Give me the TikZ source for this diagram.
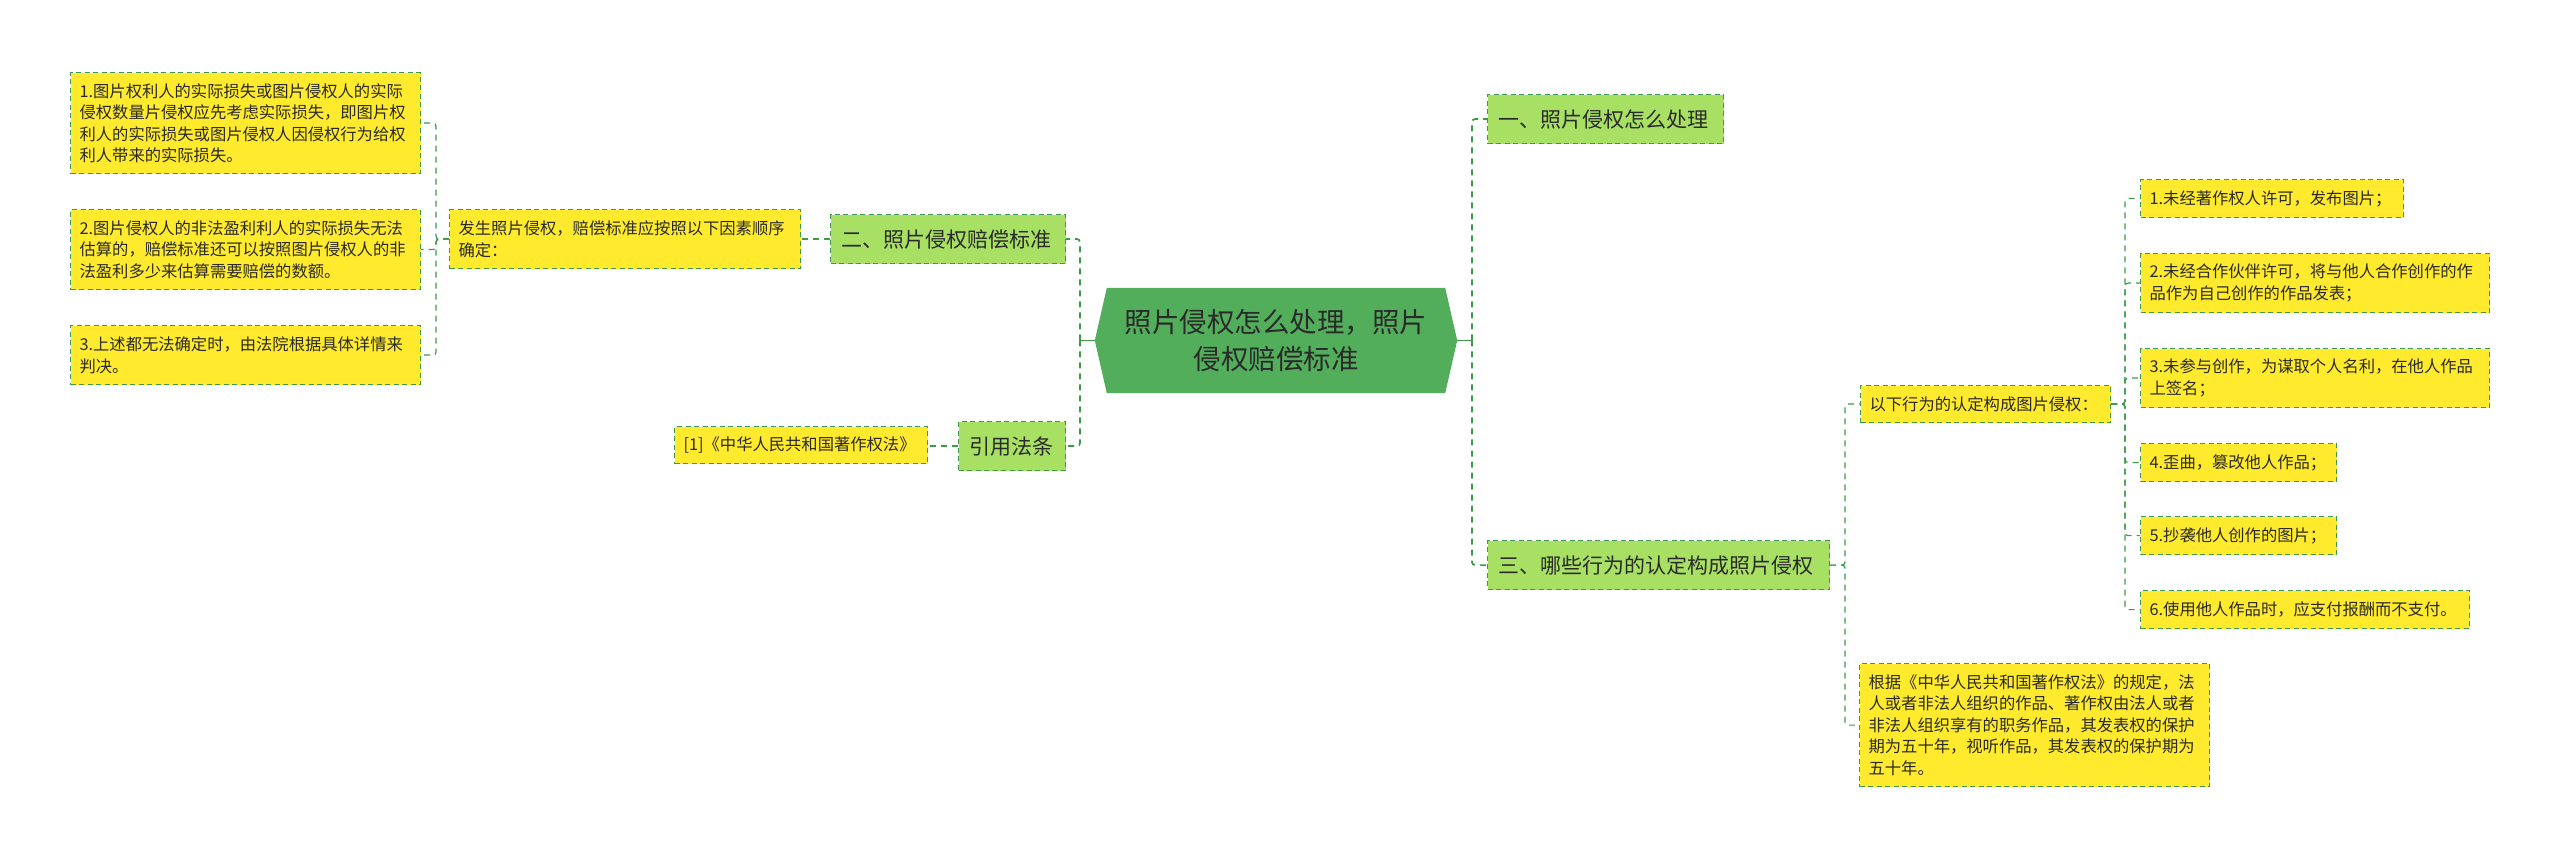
\documentclass[tikz,border=0pt]{standalone}
\usepackage{fontspec}
\setmainfont{Noto Sans CJK SC}
\usetikzlibrary{backgrounds}
\definecolor{hexg}{HTML}{52AE5B}
\definecolor{lg}{HTML}{A8E063}
\definecolor{yl}{HTML}{FFEA2E}
\definecolor{lineg}{HTML}{3E9A48}
\definecolor{txt}{HTML}{2A2A2A}
\begin{document}
\begin{tikzpicture}[x=1pt,y=-1pt,
  leaf/.style={draw=lineg, fill=yl, line width=1.2pt, dash pattern=on 5pt off 3.5pt,
    anchor=north west, inner xsep=9pt, inner ysep=0pt, align=left, text=txt,
    font=\fontsize{16.3}{21.4}\selectfont},
  lvl/.style={draw=lineg, fill=lg, line width=1.2pt, dash pattern=on 5pt off 3.5pt,
    anchor=north west, inner xsep=11pt, inner ysep=0pt, align=left, text=txt,
    font=\fontsize{21}{26}\selectfont},
  conn/.style={draw=lineg, line width=1.7pt, dash pattern=on 6pt off 5pt, rounded corners=3pt},
  connthin/.style={conn, line width=1.2pt},
  solidconn/.style={draw=lineg, line width=1.7pt},
]
\useasboundingbox (0,0) rectangle (2560,858);
\begin{pgfonlayer}{background}
\fill[white] (0,0) rectangle (2560,858);
\end{pgfonlayer}

% bracket x positions
\coordinate (bL) at (436,0);
\coordinate (bM) at (1080,0);
\coordinate (bR) at (1472,0);
\coordinate (b3) at (1845,0);
\coordinate (bY) at (2125,0);

% central node
\node[minimum width=362pt, minimum height=105pt, inner sep=0pt, align=center, text=txt,
  font=\fontsize{27.5}{37}\selectfont] (hex) at (1276,340.5)
  {照片侵权怎么处理，照片\\侵权赔偿标准};
\begin{pgfonlayer}{background}
\fill[hexg] (hex.west) -- ([xshift=12pt]hex.north west) -- ([xshift=-12pt]hex.north east)
  -- (hex.east) -- ([xshift=-12pt]hex.south east) -- ([xshift=12pt]hex.south west) -- cycle;
\end{pgfonlayer}

% left side
\node[leaf, text width=332pt, minimum height=101pt] (L1) at (70,72)
  {1.图片权利人的实际损失或图片侵权人的实际\\侵权数量片侵权应先考虑实际损失，即图片权\\利人的实际损失或图片侵权人因侵权行为给权\\利人带来的实际损失。};
\node[leaf, text width=332pt, minimum height=80pt] (L2) at (70,209)
  {2.图片侵权人的非法盈利利人的实际损失无法\\估算的，赔偿标准还可以按照图片侵权人的非\\法盈利多少来估算需要赔偿的数额。};
\node[leaf, text width=332pt, minimum height=59pt] (L3) at (70,325)
  {3.上述都无法确定时，由法院根据具体详情来\\判决。};
\node[leaf, text width=333pt, minimum height=59pt] (P) at (449,209)
  {发生照片侵权，赔偿标准应按照以下因素顺序\\确定：};
\node[lvl, text width=213pt, minimum height=49pt] (T2) at (830,214) {二、照片侵权赔偿标准};
\node[lvl, text width=85pt, minimum height=49pt] (T4) at (958,421) {引用法条};
\node[leaf, text width=235pt, minimum height=37pt] (R1) at (674,426) {[1]《中华人民共和国著作权法》};

% right side
\node[lvl, text width=214pt, minimum height=49pt] (T1) at (1487,94) {一、照片侵权怎么处理};
\node[lvl, text width=320pt, minimum height=49pt] (T3) at (1487,540) {三、哪些行为的认定构成照片侵权};
\node[leaf, text width=232pt, minimum height=37pt] (Y) at (1860,385) {以下行为的认定构成图片侵权：};
\node[leaf, text width=332pt, minimum height=123pt] (G) at (1859,663)
  {根据《中华人民共和国著作权法》的规定，法\\人或者非法人组织的作品、著作权由法人或者\\非法人组织享有的职务作品，其发表权的保护\\期为五十年，视听作品，其发表权的保护期为\\五十年。};
\node[leaf, text width=245pt, minimum height=38pt] (I1) at (2140,179) {1.未经著作权人许可，发布图片；};
\node[leaf, text width=331pt, minimum height=59pt] (I2) at (2140,253)
  {2.未经合作伙伴许可，将与他人合作创作的作\\品作为自己创作的作品发表；};
\node[leaf, text width=331pt, minimum height=59pt] (I3) at (2140,348)
  {3.未参与创作，为谋取个人名利，在他人作品\\上签名；};
\node[leaf, text width=178pt, minimum height=38pt] (I4) at (2140,443) {4.歪曲，篡改他人作品；};
\node[leaf, text width=178pt, minimum height=38pt] (I5) at (2140,516) {5.抄袭他人创作的图片；};
\node[leaf, text width=311pt, minimum height=38pt] (I6) at (2140,590) {6.使用他人作品时，应支付报酬而不支付。};

% connectors left
\draw[solidconn] (hex.west) -- (hex.west -| bM);
\draw[conn] (hex.west -| bM) |- (T2.east);
\draw[conn] (hex.west -| bM) |- (T4.east);
\draw[conn] (T2.west) -- (T2.west -| P.east);
\draw[conn] (T4.west) -- (T4.west -| R1.east);
\draw[connthin] (P.west) -- (P.west -| bL) |- (L1.east);
\draw[connthin] (P.west) -- (P.west -| bL) |- (L2.east);
\draw[connthin] (P.west) -- (P.west -| bL) |- (L3.east);

% connectors right
\draw[solidconn] (hex.east) -- (hex.east -| bR);
\draw[conn] (hex.east -| bR) |- (T1.west);
\draw[conn] (hex.east -| bR) |- (T3.west);
\draw[connthin] (T3.east) -- (T3.east -| b3) |- (Y.west);
\draw[connthin] (T3.east) -- (T3.east -| b3) |- (G.west);
\draw[connthin] (Y.east) -- (Y.east -| bY) |- (I1.west);
\draw[connthin] (Y.east) -- (Y.east -| bY) |- (I2.west);
\draw[connthin] (Y.east) -- (Y.east -| bY) |- (I3.west);
\draw[connthin] (Y.east) -- (Y.east -| bY) |- (I4.west);
\draw[connthin] (Y.east) -- (Y.east -| bY) |- (I5.west);
\draw[connthin] (Y.east) -- (Y.east -| bY) |- (I6.west);
\end{tikzpicture}
\end{document}
